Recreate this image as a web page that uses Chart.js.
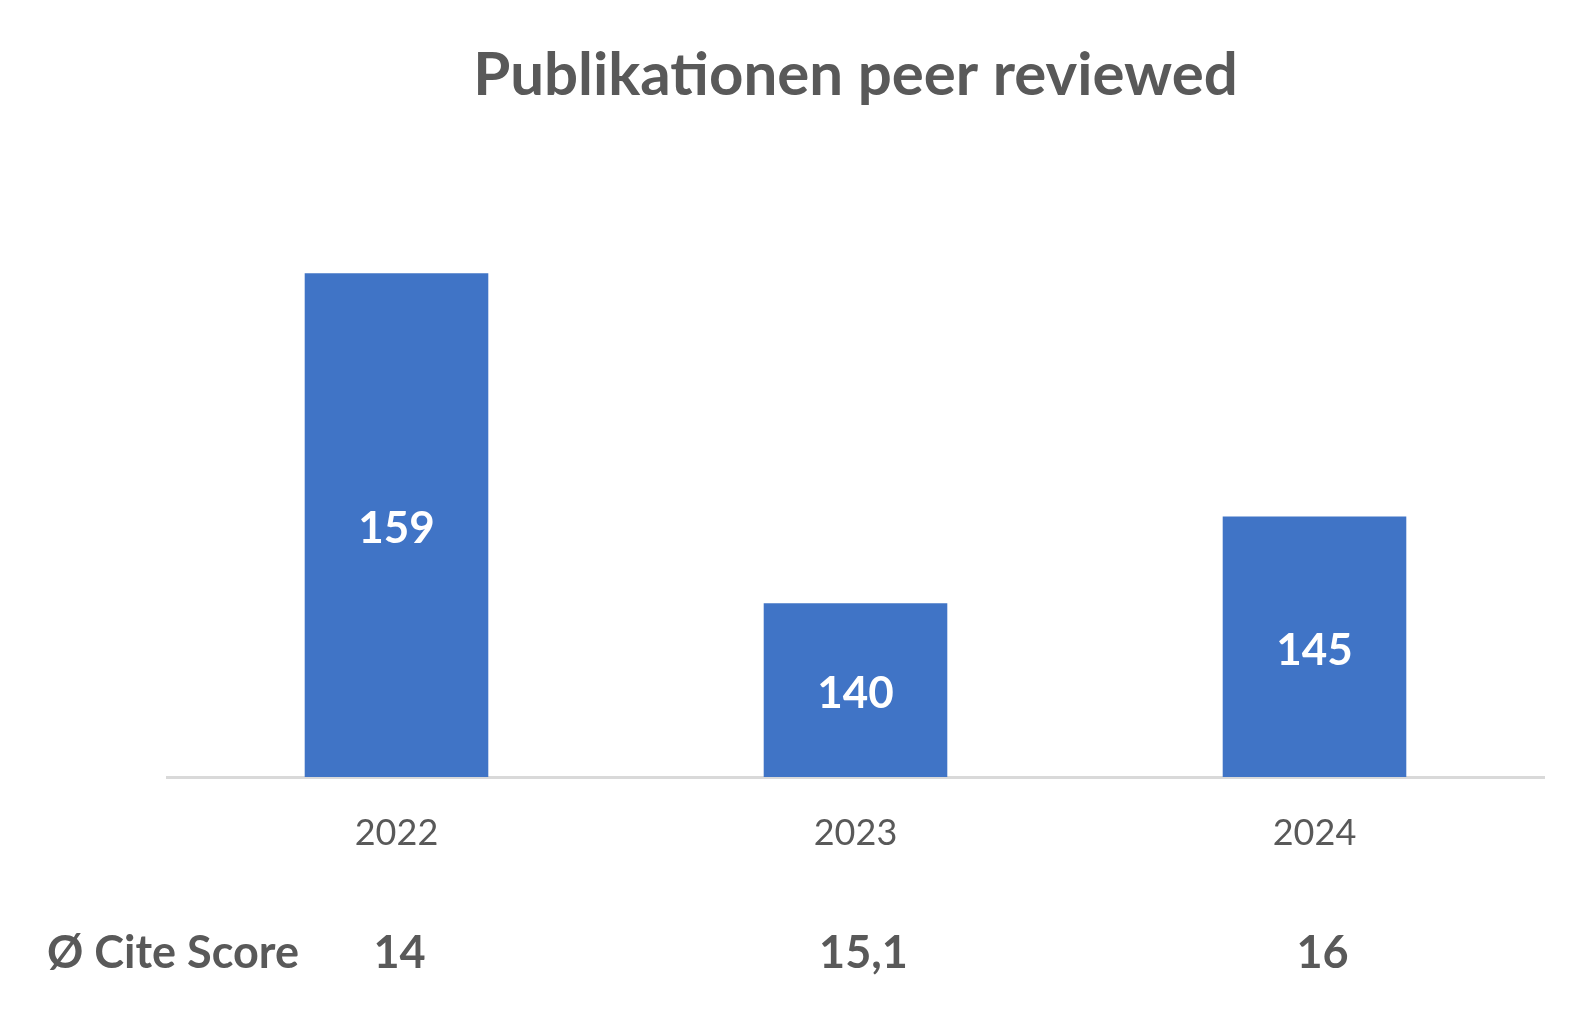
<!DOCTYPE html>
<html lang="de">
  <head>
    <meta charset="UTF-8" />
    <title>Publikationen peer reviewed</title>
    <script src="https://cdn.jsdelivr.net/npm/chart.js"></script>
    <style>
      body {
        margin: 0;
        background: #fff;
      }
      .wrap {
        width: 1579px;
        height: 1029px;
      }
    </style>
  </head>
  <body>
    <div class="wrap">
      <canvas id="pubChart" width="1579" height="1029"></canvas>
    </div>

    <script>
      const years = ["2022", "2023", "2024"];
      const publications = [159, 140, 145];
      const citeScores = ["14", "15,1", "16"];
      const citeLabel = "Ø Cite Score";

      const gray = "#595959";
      const font = "Lato, 'Open Sans', sans-serif";

      // white value inside each bar + cite score row under the axis
      const labelsPlugin = {
        id: "labels",
        afterDraw(chart) {
          const ctx = chart.ctx;
          const meta = chart.getDatasetMeta(0);
          const bottom = chart.chartArea.bottom;
          ctx.save();
          ctx.textAlign = "center";
          ctx.textBaseline = "middle";
          ctx.fillStyle = "#ffffff";
          ctx.font = "bold 44px " + font;
          meta.data.forEach((bar, i) => {
            const p = bar.getProps(["x", "y"], true);
            ctx.fillText(String(publications[i]), p.x, (p.y + bottom) / 2 + 4);
          });

          const rowY = 953;
          ctx.fillStyle = gray;
          ctx.font = "bold 45px " + font;
          meta.data.forEach((bar, i) => {
            ctx.fillText(citeScores[i], bar.x + (i === 0 ? 3 : 8), rowY);
          });
          ctx.textAlign = "left";
          ctx.fillText(citeLabel, 47, rowY);
          ctx.restore();
        },
      };

      new Chart(document.getElementById("pubChart").getContext("2d"), {
        type: "bar",
        data: {
          labels: years,
          datasets: [
            {
              data: publications,
              backgroundColor: "#4074C6",
              barPercentage: 0.4,
              categoryPercentage: 1,
            },
          ],
        },
        options: {
          responsive: false,
          animation: false,
          layout: { padding: { left: 167, right: 35, top: 0, bottom: 0 } },
          plugins: {
            legend: { display: false },
            tooltip: { enabled: false },
            title: {
              display: true,
              fullSize: false,
              text: "Publikationen peer reviewed",
              color: gray,
              font: { family: font, size: 60, weight: "bold", lineHeight: 1.2 },
              padding: { top: 40, bottom: 144 },
            },
          },
          scales: {
            y: { display: false, min: 130, max: 160 },
            x: {
              grid: { display: false, drawTicks: false },
              border: { display: true, color: "#d9d9d9", width: 3 },
              ticks: {
                color: gray,
                padding: 35,
                font: { family: font, size: 36 },
              },
              afterFit(scale) {
                scale.height = 252;
              },
            },
          },
        },
        plugins: [labelsPlugin],
      });
    </script>
  </body>
</html>
